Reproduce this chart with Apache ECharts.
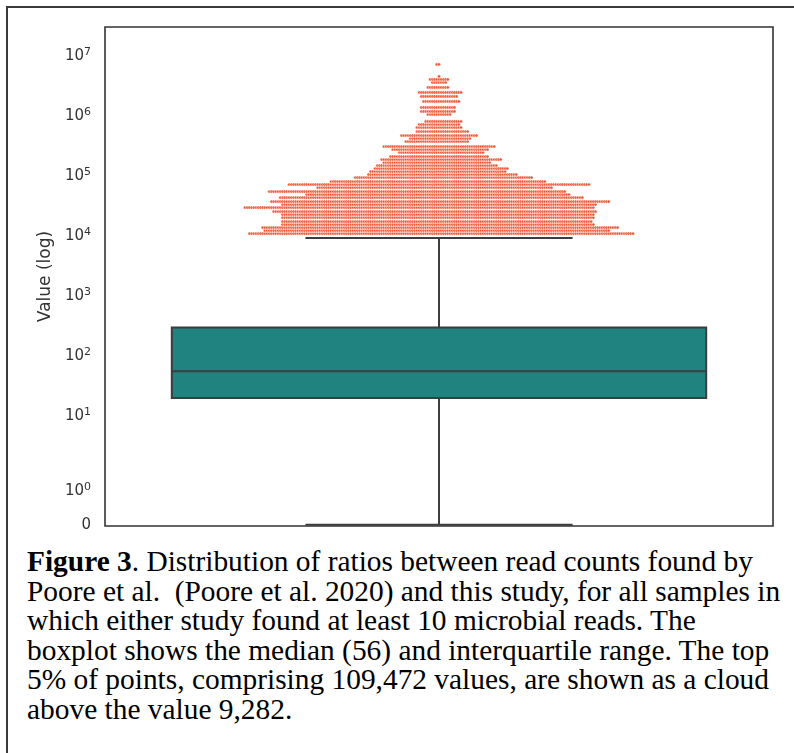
<!DOCTYPE html>
<html>
<head>
<meta charset="utf-8">
<script src="https://cdn.jsdelivr.net/npm/echarts@6/dist/echarts.min.js"></script>
<style>
  body { margin: 0; background: #fff; }
  #wrap { position: relative; width: 794px; height: 753px; overflow: hidden; }
  #chart { position: absolute; left: 0; top: 0; width: 794px; height: 540px; }
  #frame { position: absolute; left: 6px; top: 6px; width: 820px; height: 800px;
    border-left: 2px solid #3a3a3a; border-top: 2px solid #3a3a3a; }
  #caption { position: absolute; left: 27px; top: 547px; font-family: "Liberation Serif", "Times New Roman", serif;
    font-size: 29.4px; line-height: 29.6px; color: #000; white-space: nowrap; }
</style>
</head>
<body>
<div id="wrap">
  <div id="frame"></div>
  <div id="chart"></div>
  <div id="caption">
    <b>Figure 3</b>. Distribution of ratios between read counts found by<br>
    Poore et al.&nbsp; (Poore et al. 2020) and this study, for all samples in<br>
    which either study found at least 10 microbial reads. The<br>
    boxplot shows the median (56) and interquartile range. The top<br>
    5% of points, comprising 109,472 values, are shown as a cloud<br>
    above the value 9,282.
  </div>
</div>
<script>
// y axis ticks (symlog scale, linthresh 2)
var tickValues = [0, 1, 10, 100, 1000, 10000, 100000, 1000000, 10000000];
var tickLabels = ["0", "10{s|0}", "10{s|1}", "10{s|2}", "10{s|3}", "10{s|4}", "10{s|5}", "10{s|6}", "10{s|7}"];

// boxplot: lower whisker, Q1, median, Q3, upper whisker
var boxStats = [0, 20, 56, 300, 9282];

// swarm cloud above the upper whisker: one row per value,
// with the number of dots to the left and right of the centre dot
var rowValues = [10960, 12300, 13800, 15490, 17380, 20260, 22730, 25500, 29730, 33360,
  37430, 43650, 48970, 54950, 64060, 71880, 80650, 94020, 105500, 118400,
  132800, 149000, 167200, 187600, 210500, 245400, 275400, 309000, 374300, 420000,
  471300, 549600, 640600, 718800, 806500, 1055000, 1184000, 1380000, 1738000, 2105000,
  2454000, 2973000, 3602000, 4042000, 4535000, 7187000];
var rowLeft = [86, 79, 80, 71, 71, 71, 71, 75, 88, 71,
  76, 72, 60, 77, 55, 68, 49, 38, 32, 31,
  29, 28, 25, 26, 22, 18, 21, 25, 15, 13,
  17, 10, 10, 9, 6, 5, 8, 8, 7, 8,
  9, 5, 3, 4, 0, 1];
var rowRight = [88, 77, 81, 70, 69, 70, 70, 71, 70, 71,
  77, 65, 59, 57, 51, 68, 48, 42, 35, 30,
  31, 26, 23, 28, 22, 20, 22, 25, 13, 14,
  17, 13, 10, 9, 10, 5, 7, 7, 9, 8,
  10, 4, 3, 4, 0, 0];

// matplotlib style symlog (base 10, linthresh 2, linscale 1), in decades
function symlog(v) {
  var c = 2, L = 1 / (1 - 1 / 10);
  return v <= c ? v * L / c : L + Math.log10(v / c);
}

var tickPos = tickValues.map(symlog);

var dx = 0.0033; // step between neighbouring dots, in category widths
var swarm = [];
rowValues.forEach(function (v, i) {
  for (var k = -rowLeft[i]; k <= rowRight[i]; k++) {
    swarm.push([k * dx, symlog(v)]);
  }
});

var lineColor = "#3d3d3d";

var myChart = echarts.init(document.getElementById("chart"));
myChart.setOption({
  animation: false,
  grid: {
    left: 105,
    right: 21,
    top: 27,
    height: 499,
    show: true,
    borderColor: "#333",
    borderWidth: 1.6,
    backgroundColor: "#fff"
  },
  xAxis: {
    type: "value",
    min: -0.5,
    max: 0.5,
    show: false
  },
  yAxis: {
    type: "value",
    min: -0.02,
    max: 8.29,
    name: "Value (log)",
    nameLocation: "middle",
    nameRotate: 90,
    nameGap: 51,
    nameTextStyle: { fontFamily: "DejaVu Sans", fontSize: 17, color: "#333" },
    axisLine: { show: false },
    axisTick: { show: false },
    splitLine: { show: false },
    axisLabel: {
      customValues: tickPos,
      margin: 14,
      fontFamily: "DejaVu Sans",
      fontSize: 15,
      lineHeight: 19,
      color: "#333",
      rich: {
        s: { fontFamily: "DejaVu Sans", fontSize: 11, lineHeight: 11, color: "#333", verticalAlign: "top" }
      },
      formatter: function (val) {
        var i = tickPos.findIndex(function (p) { return Math.abs(p - val) < 1e-6; });
        return i >= 0 ? tickLabels[i] : "";
      }
    }
  },
  series: [
    {
      type: "custom",
      z: 2,
      data: [[0].concat(boxStats.map(symlog))],
      renderItem: function (params, api) {
        var lo = api.value(1), q1 = api.value(2), med = api.value(3), q3 = api.value(4), hi = api.value(5);
        function pt(x, y) { return api.coord([x, y]); }
        var style = { stroke: lineColor, lineWidth: 2, fill: null };
        var boxTL = pt(-0.4, q3), boxBR = pt(0.4, q1);
        return {
          type: "group",
          children: [
            { type: "line", shape: { x1: pt(0, lo)[0], y1: pt(0, lo)[1], x2: pt(0, q1)[0], y2: pt(0, q1)[1] }, style: style },
            { type: "line", shape: { x1: pt(0, q3)[0], y1: pt(0, q3)[1], x2: pt(0, hi)[0], y2: pt(0, hi)[1] }, style: style },
            { type: "line", shape: { x1: pt(-0.2, lo)[0], y1: pt(-0.2, lo)[1], x2: pt(0.2, lo)[0], y2: pt(0.2, lo)[1] }, style: style },
            { type: "line", shape: { x1: pt(-0.2, hi)[0], y1: pt(-0.2, hi)[1], x2: pt(0.2, hi)[0], y2: pt(0.2, hi)[1] }, style: style },
            {
              type: "rect",
              shape: { x: boxTL[0], y: boxTL[1], width: boxBR[0] - boxTL[0], height: boxBR[1] - boxTL[1] },
              style: { fill: "#218380", stroke: lineColor, lineWidth: 2 }
            },
            { type: "line", shape: { x1: pt(-0.4, med)[0], y1: pt(-0.4, med)[1], x2: pt(0.4, med)[0], y2: pt(0.4, med)[1] }, style: style }
          ]
        };
      }
    },
    {
      type: "scatter",
      z: 3,
      silent: true,
      symbol: "circle",
      symbolSize: 3.2,
      itemStyle: { color: "#f0532f", borderColor: "#fff", borderWidth: 0.5, opacity: 1 },
      data: swarm
    }
  ]
});
</script>
</body>
</html>
